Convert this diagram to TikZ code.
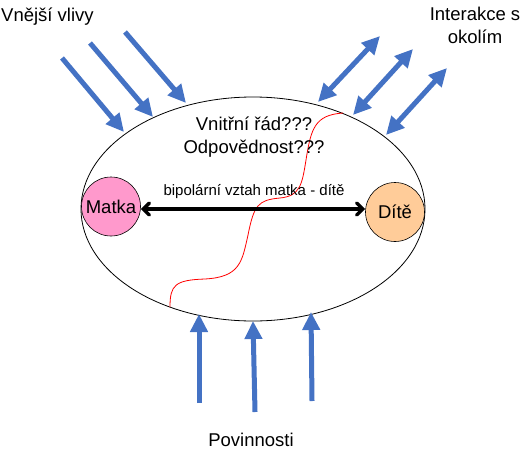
\documentclass[tikz,border=0pt]{standalone}
\usepackage{fontspec}
\setmainfont{Liberation Sans}
\usetikzlibrary{arrows.meta,shapes.geometric}
\definecolor{arrblue}{HTML}{4472C4}
\definecolor{mpink}{HTML}{FF99CC}
\definecolor{dorange}{HTML}{FFCC99}
\begin{document}
\begin{tikzpicture}[x=1pt,y=-1pt,
  lbl/.style={font=\fontsize{18.5}{23}\selectfont, inner sep=0pt, align=center},
  smalllbl/.style={font=\fontsize{15}{19}\selectfont, inner sep=0pt},
  person/.style={circle, draw=black, line width=0.6pt, minimum size=59pt, inner sep=0pt, font=\fontsize{18.5}{22}\selectfont},
  inarrow/.style={draw=arrblue, line width=5pt, -{Triangle[length=18pt,width=17pt]}},
  botharrow/.style={draw=arrblue, line width=5pt, {Triangle[length=18pt,width=17pt]}-{Triangle[length=18pt,width=17pt]}},
  bip/.style={draw=black, line width=3.5pt, {Straight Barb[length=6pt,width=12pt,line cap=round]}-{Straight Barb[length=6pt,width=12pt,line cap=round]}},
  redline/.style={draw=red, line width=0.8pt}
]
\useasboundingbox (0,0) rectangle (526,452);

% family ellipse
\node[ellipse, draw=black, line width=0.8pt, minimum width=344pt, minimum height=224pt, inner sep=0pt] (fam) at (253,209) {};

% red curve
\draw[redline] (170,307) .. controls (170,285) and (175,280) .. (205,279)
  .. controls (240,277) and (242,262) .. (248,235)
  .. controls (254,205) and (258,200) .. (280,198)
  .. controls (300,196) and (302,185) .. (306,160)
  .. controls (311,128) and (315,115) .. (343,113);

% persons
\node[person, fill=mpink] (matka) at (111,206.5) {Matka};
\node[person, fill=dorange] (dite) at (395,212) {Dítě};
\draw[bip] (matka.east |- 0,209) -- (dite.west |- 0,209);
\node[smalllbl] (biplbl) at (254,192) {bipolární vztah matka - dítě};

% inner texts
\node[lbl] (rad) at (254,137) {Vnitřní řád???\\Odpovědnost???};

% labels
\node[lbl, anchor=west] (vnejsi) at (1,17) {Vnější vlivy};
\node[lbl] (interakce) at (475,25) {Interakce s\\okolím};
\node[lbl] (povinnosti) at (251,440) {Povinnosti};

% outer influences
\coordinate (a1s) at (62,58);  \coordinate (a1e) at (124,132);
\coordinate (a2s) at (90,43);  \coordinate (a2e) at (153,117);
\coordinate (a3s) at (125,32); \coordinate (a3e) at (186,103);
\draw[inarrow] (a1s) -- (a1e);
\draw[inarrow] (a2s) -- (a2e);
\draw[inarrow] (a3s) -- (a3e);

% interactions
\coordinate (b1s) at (318,102); \coordinate (b1e) at (380,36);
\coordinate (b2s) at (353,115); \coordinate (b2e) at (413,49);
\coordinate (b3s) at (386,135); \coordinate (b3e) at (447,68);
\draw[botharrow] (b1s) -- (b1e);
\draw[botharrow] (b2s) -- (b2e);
\draw[botharrow] (b3s) -- (b3e);

% duties
\coordinate (c1s) at (199,403); \coordinate (c1e) at (199,314);
\coordinate (c2s) at (255,412); \coordinate (c2e) at (253,321);
\coordinate (c3s) at (312,401); \coordinate (c3e) at (311,312);
\draw[inarrow] (c1s) -- (c1e);
\draw[inarrow] (c2s) -- (c2e);
\draw[inarrow] (c3s) -- (c3e);
\end{tikzpicture}
\end{document}
